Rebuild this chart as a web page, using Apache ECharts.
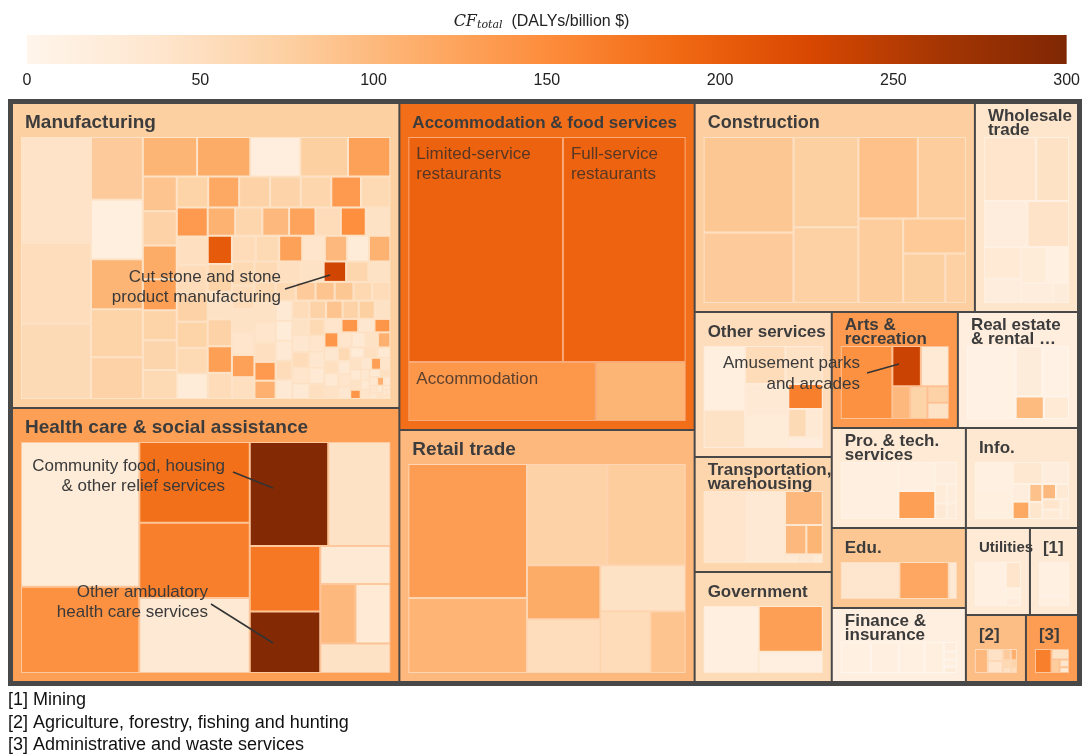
<!DOCTYPE html>
<html>
<head>
    <meta charset="UTF-8">
    <title>CF total treemap</title>
</head>
<body style="margin: 0;overflow: hidden;background: #fff;width: 1083px;height: 756px">
<div id="chart" style="width: 1083px;height: 756px"></div>

<script type="text/javascript" src="https://cdn.jsdelivr.net/npm/echarts@6/dist/echarts.min.js"></script>
<script type="text/javascript">
    // colour scale ticks
    var cfTicks = [0, 50, 100, 150, 200, 250, 300];

    // sectors, in order of size
    var sectorNames = ['Manufacturing', 'Health care & social assistance', 'Accommodation & food services',
        'Retail trade', 'Construction', 'Wholesale trade', 'Other services', 'Transportation, warehousing',
        'Government', 'Arts & recreation', 'Real estate & rental …', 'Pro. & tech. services', 'Info.',
        'Edu.', 'Finance & insurance', 'Utilities', '[1]', '[2]', '[3]'];
    var sectorLabels = ['Manufacturing', 'Health care & social assistance', 'Accommodation & food services',
        'Retail trade', 'Construction', 'Wholesale\ntrade', 'Other services', 'Transportation,\nwarehousing',
        'Government', 'Arts &\nrecreation', 'Real estate\n& rental …', 'Pro. & tech.\nservices', 'Info.',
        'Edu.', 'Finance &\ninsurance', 'Utilities', '[1]', '[2]', '[3]'];
    var sectorSizes = [118035, 106038, 96465, 74340, 58520, 21527, 19865, 15755, 15070, 14616, 13920,
        13400, 11200, 10720, 9916, 5568, 4176, 4020, 3484];
    var sectorCF = [75, 130, 182, 100, 77, 38, 52, 65, 57, 135, 18, 28, 33, 85, 14, 28, 30, 95, 132];

    // manufacturing sub-sectors, largest first
    var manufacturingSizes = [
        7245, 5520, 5175, 3180, 3021, 2544, 2438, 2120, 2100, 2058, 1932, 1848, 1638,
        1150, 1140, 1120, 1030, 1000, 990, 960, 950, 940, 935, 930, 925, 900, 890, 880, 870, 860, 850,
        790, 780, 770, 760, 750, 740, 730, 700, 690, 680, 670, 660, 650, 640, 630, 620,
        600, 590, 580, 570, 560, 550, 540, 530, 520, 510, 500, 490, 480, 470, 460, 455, 450, 445,
        440, 430, 420, 410, 400, 390, 380, 370, 360, 350, 345, 340, 335, 330, 325, 320, 315, 310,
        305, 300, 295, 290, 285, 280, 275, 270, 265, 260, 255, 250, 245, 240, 235, 230, 225, 220,
        215, 210, 205, 200, 195, 190, 185, 180, 175, 170, 165, 160, 155, 150, 145, 140, 135, 130,
        125, 120, 115, 110, 105, 100, 95, 90, 85, 80, 75, 70, 65, 60, 55, 50, 45, 40, 35,
        30, 25, 20, 15, 10
    ];
    var manufacturingCF = [
        42, 52, 58, 80, 15, 105, 70, 72, 105, 115, 18, 75, 128,
        88, 72, 115, 130, 70, 66, 60, 70, 118, 72, 68, 65, 135, 60,
        135, 50, 55, 72, 70, 60, 25, 108, 65, 100, 125, 55, 148, 45,
        205, 70, 45, 72, 130, 55, 55, 60, 128, 40, 100, 25, 108,
        60, 55, 45, 40, 128, 50, 60, 50, 45, 232, 65, 45,
        60, 45, 40, 50, 135, 110, 60, 80, 88, 85, 62, 55,
        30, 25, 30, 55, 30, 55, 72, 88, 72, 75, 45,
        45, 35, 55, 40, 30, 60, 40, 35, 30, 50, 40, 140, 35, 140,
        140, 40, 30, 45, 110, 35, 50, 30, 45, 60, 30, 40, 35, 25, 50, 30,
        45, 35, 130, 40, 30, 45, 140, 35, 30, 40, 30, 50, 35, 110, 30, 40, 35, 30, 45,
        30, 35, 30, 40, 30
    ];
    var cutStoneIndex = 63;

    // other sub-sectors: [size, CF, name]
    var healthCells = [
        [16128, 25], [9632, 145], [8400, 180], [7850, 165], [7800, 30],
        [7700, 296, 'Community food, housing & other relief services'], [6100, 45], [4352, 172],
        [4080, 296, 'Other ambulatory health care services'], [2500, 30], [1975, 100], [1960, 28], [1950, 45]
    ];
    var accommodationCells = [
        [34875, 196, 'Limited-service\nrestaurants'], [27675, 194, 'Full-service\nrestaurants'],
        [11092, 138, 'Accommodation'], [5310, 105]
    ];
    var retailCells = [[15640, 132], [8740, 106], [8000, 72], [7800, 78], [3900, 115], [3880, 52], [3864, 45],
        [3024, 55], [2142, 88]];
    var constructionCells = [[7912, 85], [5848, 80], [5394, 75], [4526, 73], [4466, 92], [3619, 78], [3486, 78],
        [2016, 82], [1927, 75], [940, 73]];
    var wholesaleCells = [[3162, 40], [1984, 45], [1892, 20], [1804, 43], [1120, 28], [851, 20], [840, 25],
        [777, 12], [600, 20], [300, 22]];
    var otherServicesCells = [[2496, 15], [1482, 45], [1443, 55], [1332, 45], [1312, 30], [1300, 25], [816, 165],
        [486, 58], [432, 30], [200, 20], [150, 20]];
    var transportCells = [[2808, 40], [2736, 30], [1216, 100], [592, 100], [456, 105], [120, 30], [100, 35], [90, 28]];
    var governmentCells = [[3796, 14], [3008, 130], [1408, 14]];
    var artsCells = [[3773, 145], [1150, 236, 'Amusement parks and arcades'], [1130, 28], [578, 100], [575, 70],
        [352, 72], [350, 45]];
    var realEstateCells = [[3450, 10], [1310, 22], [1300, 10], [616, 98], [550, 28]];
    var proTechCells = [[3300, 14], [1073, 14], [1036, 130], [480, 20], [220, 25], [200, 20], [180, 30], [160, 22]];
    var infoCells = [[924, 13], [920, 15], [561, 32], [500, 20], [250, 20], [247, 118], [200, 90], [190, 38],
        [180, 100], [170, 30], [160, 40], [150, 28], [140, 25]];
    var eduCells = [[2378, 37], [2009, 120], [328, 30]];
    var financeCells = [[896, 12], [832, 14], [768, 12], [576, 15], [120, 20], [100, 18], [90, 15], [80, 22]];
    var utilitiesCells = [[1457, 12], [432, 40], [160, 15], [130, 20]];
    var miningCells = [[1080, 12], [300, 15]];
    var agricultureCells = [[312, 100], [180, 40], [180, 45], [90, 80], [70, 110], [60, 60], [50, 45], [40, 70], [30, 50]];
    var adminCells = [[442, 165], [204, 45], [120, 78], [80, 40], [60, 30]];

    var manufacturingCells = manufacturingSizes.map(function (s, i) {
        return [s, manufacturingCF[i], i === cutStoneIndex ? 'Cut stone and stone product manufacturing' : ''];
    });
    var sectorCells = [manufacturingCells, healthCells, accommodationCells, retailCells, constructionCells,
        wholesaleCells, otherServicesCells, transportCells, governmentCells, artsCells, realEstateCells,
        proTechCells, infoCells, eduCells, financeCells, utilitiesCells, miningCells, agricultureCells, adminCells];

    var FONT = 'Liberation Sans, Arial, Helvetica, sans-serif';
    var headerSize = {
        'Manufacturing': 19, 'Health care & social assistance': 19, 'Accommodation & food services': 17,
        'Retail trade': 19, 'Construction': 18, 'Utilities': 15
    };
    var labelledCells = ['Limited-service\nrestaurants', 'Full-service\nrestaurants', 'Accommodation'];

    // matplotlib "Oranges"
    var oranges = ['#fff5eb', '#fee6ce', '#fdd0a2', '#fdae6b', '#fd8d3c', '#f16913', '#d94801', '#a63603', '#7f2704'];

    function hexRgb(h) {
        return [parseInt(h.slice(1, 3), 16), parseInt(h.slice(3, 5), 16), parseInt(h.slice(5, 7), 16)];
    }

    function cfColor(cf) {
        var t = Math.max(0, Math.min(1, cf / 300)) * (oranges.length - 1);
        var i = Math.min(Math.floor(t), oranges.length - 2);
        var f = t - i;
        var a = hexRgb(oranges[i]), b = hexRgb(oranges[i + 1]);
        return 'rgb(' + Math.round(a[0] + (b[0] - a[0]) * f) + ',' + Math.round(a[1] + (b[1] - a[1]) * f) + ','
            + Math.round(a[2] + (b[2] - a[2]) * f) + ')';
    }

    var treeData = sectorNames.map(function (name, i) {
        var twoLines = sectorLabels[i].indexOf('\n') >= 0;
        return {
            name: name,
            value: sectorSizes[i],
            itemStyle: {borderColor: cfColor(sectorCF[i])},
            upperLabel: {
                formatter: sectorLabels[i],
                fontSize: headerSize[name] || 17,
                lineHeight: twoLines ? 14 : 20
            },
            children: sectorCells[i].map(function (c) {
                var item = {name: c[2] || '', value: c[0], itemStyle: {color: cfColor(c[1])}};
                if (labelledCells.indexOf(c[2]) >= 0) {
                    item.label = {
                        show: true, formatter: c[2], position: 'insideTopLeft', distance: 0,
                        padding: [6, 0, 0, 7], fontSize: 17, lineHeight: 20, fontFamily: FONT,
                        color: 'rgba(55,45,40,0.82)', overflow: 'none'
                    };
                }
                return item;
            })
        };
    });

    var chart = echarts.init(document.getElementById('chart'), null, {renderer: 'canvas'});
    var option = {
        animation: false,
        backgroundColor: '#fff',
        title: {
            left: 'center',
            top: 8,
            text: '{cf|CF}{sub|total}{u|  (DALYs/billion $)}',
            textStyle: {
                fontWeight: 'normal',
                rich: {
                    cf: {fontFamily: 'DejaVu Serif', fontStyle: 'italic', fontWeight: 'normal', fontSize: 16, color: '#222'},
                    sub: {fontFamily: 'DejaVu Serif', fontStyle: 'italic', fontWeight: 'normal', fontSize: 11,
                        color: '#222', padding: [7, 0, 0, 0]},
                    u: {fontFamily: FONT, fontWeight: 'normal', fontSize: 16, color: '#222'}
                }
            }
        },
        grid: {left: 27, right: 16, top: 35, height: 29},
        xAxis: {
            type: 'value', min: cfTicks[0], max: cfTicks[cfTicks.length - 1], interval: cfTicks[1] - cfTicks[0],
            axisLine: {show: false}, axisTick: {show: false}, splitLine: {show: false},
            axisLabel: {fontSize: 16, color: '#222', fontFamily: FONT, margin: 9}
        },
        yAxis: {type: 'category', data: ['CF'], show: false},
        series: [{
            type: 'bar',
            silent: true,
            barWidth: '100%',
            data: [cfTicks[cfTicks.length - 1]],
            itemStyle: {
                color: {
                    type: 'linear', x: 0, y: 0, x2: 1, y2: 0,
                    colorStops: oranges.map(function (c, i) {
                        return {offset: i / (oranges.length - 1), color: c};
                    })
                }
            }
        }, {
            type: 'treemap',
            left: 8, top: 99, width: 1074, height: 587,
            roam: false,
            nodeClick: false,
            squareRatio: 1,
            breadcrumb: {show: false},
            emphasis: {disabled: true},
            data: treeData,
            levels: [{
                itemStyle: {borderColor: '#484848', borderWidth: 5, gapWidth: 2}
            }, {
                itemStyle: {borderWidth: 8, gapWidth: 0},
                upperLabel: {
                    show: true, height: 33, color: '#3c3c3c', fontWeight: 'bold', fontFamily: FONT,
                    overflow: 'none', position: [4, 19], align: 'left', verticalAlign: 'middle'
                }
            }, {
                itemStyle: {borderWidth: 1, borderColor: 'rgba(255,255,255,0.42)', gapWidth: 0},
                label: {show: false}
            }]
        }],
        graphic: [
            {type: 'text', z: 100, x: 281, y: 267, style: {
                text: 'Cut stone and stone\nproduct manufacturing', align: 'right', verticalAlign: 'top',
                fontSize: 17, lineHeight: 20, fontFamily: FONT, fill: '#3a3a3a'}},
            {type: 'line', z: 100, shape: {x1: 285, y1: 289, x2: 330, y2: 275}, style: {stroke: '#333', lineWidth: 1.5}},
            {type: 'text', z: 100, x: 225, y: 456, style: {
                text: 'Community food, housing\n& other relief services', align: 'right', verticalAlign: 'top',
                fontSize: 17, lineHeight: 20, fontFamily: FONT, fill: '#3a3a3a'}},
            {type: 'line', z: 100, shape: {x1: 233, y1: 472, x2: 273, y2: 488}, style: {stroke: '#333', lineWidth: 1.5}},
            {type: 'text', z: 100, x: 208, y: 582, style: {
                text: 'Other ambulatory\nhealth care services', align: 'right', verticalAlign: 'top',
                fontSize: 17, lineHeight: 20, fontFamily: FONT, fill: '#3a3a3a'}},
            {type: 'line', z: 100, shape: {x1: 211, y1: 604, x2: 273, y2: 643}, style: {stroke: '#333', lineWidth: 1.5}},
            {type: 'text', z: 100, x: 860, y: 353, style: {
                text: 'Amusement parks\nand arcades', align: 'right', verticalAlign: 'top',
                fontSize: 17, lineHeight: 21, fontFamily: FONT, fill: '#3a3a3a'}},
            {type: 'line', z: 100, shape: {x1: 867, y1: 373, x2: 899, y2: 364}, style: {stroke: '#333', lineWidth: 1.5}},
            {type: 'text', z: 100, x: 8, y: 689, style: {
                text: '[1] Mining\n[2] Agriculture, forestry, fishing and hunting\n[3] Administrative and waste services',
                align: 'left', verticalAlign: 'top', fontSize: 18, lineHeight: 22.5, fontFamily: FONT, fill: '#111'}}
        ]
    };
    chart.setOption(option);
</script>
</body>
</html>
